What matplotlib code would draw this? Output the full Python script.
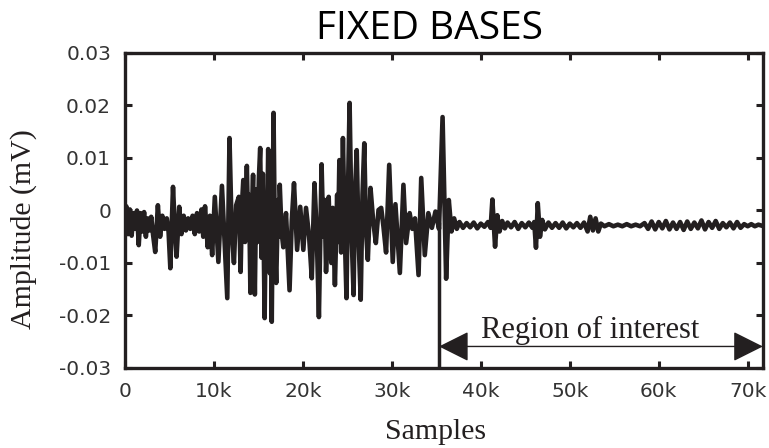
import numpy as np
import matplotlib
matplotlib.use("Agg")
import matplotlib.pyplot as plt

# burst part of the recording (sample index in thousands, amplitude in 1e-3 mV)
burst_x = [0.0, 0.15, 0.35, 0.55, 0.75, 0.95, 1.15, 1.35, 1.55, 1.75, 1.95, 2.15,
           2.35, 2.55, 2.75, 2.95, 3.15, 3.4, 3.7, 3.95, 4.2, 4.45, 4.7, 4.9,
           5.1, 5.4, 5.6, 5.8, 6.1, 6.35, 6.6, 6.85, 7.1, 7.35, 7.6, 7.85,
           8.1, 8.35, 8.6, 8.8, 9.0, 9.3, 9.55, 9.8, 10.1, 10.5, 10.9, 11.2,
           11.5, 11.75, 12.0, 12.25, 12.5, 12.8, 13.0, 13.15, 13.3, 13.5, 13.7, 13.85,
           13.95, 14.1, 14.25, 14.4, 14.6, 14.75, 14.9, 15.05, 15.2, 15.35, 15.5, 15.7,
           15.85, 15.95, 16.1, 16.3, 16.4, 16.5, 16.7, 16.85, 17.0, 17.2, 17.3, 17.4,
           17.6, 17.8, 18.1, 18.5, 18.75, 19.0, 19.35, 19.7, 20.05, 20.35, 20.7, 21.0,
           21.3, 21.55, 21.8, 22.1, 22.3, 22.45, 22.6, 22.9, 23.05, 23.2, 23.35, 23.6,
           23.85, 23.95, 24.1, 24.3, 24.5, 24.7, 24.9, 25.05, 25.25, 25.5, 25.7, 25.85,
           26.05, 26.25, 26.5, 26.7, 26.9, 27.1, 27.3, 27.6, 27.9, 28.2, 28.5, 28.8,
           29.05, 29.35, 29.7, 30.1, 30.4, 30.9, 31.3, 31.6, 32.0, 32.3, 32.6, 33.0,
           33.3, 33.7, 34.1, 34.5, 34.9, 35.3, 35.7, 36.1, 36.4, 36.7, 37.0, 37.3]
burst_y = [-1.5, 0.8, -4.5, 0.2, -4.8, -0.5, -3.5, 0.0, -6.6, -0.5, -4.0, -0.3,
           -5.0, -1.5, -3.8, -1.2, -4.5, -7.9, 1.0, -5.0, -1.0, -3.5, -1.5, -4.0,
           -11.0, 4.5, -3.0, -8.8, 0.7, -4.5, -1.0, -3.8, -1.5, -3.5, -1.0, -4.5,
           -0.5, -4.0, 0.2, -5.0, 0.8, -7.0, -1.0, -8.5, 2.6, -9.8, 4.7, -6.0,
           -16.7, 13.8, -4.0, -10.0, 1.0, 2.6, -11.7, 1.0, 5.8, -6.0, 8.5, -4.0,
           3.0, -15.7, -1.0, 6.8, -16.0, 4.0, -6.0, 6.0, 11.9, -9.0, 7.0, -20.5,
           2.0, -8.0, 11.7, -12.0, 6.0, -21.2, 18.6, -6.0, -13.8, 2.0, -5.0, 4.9,
           -4.0, -7.0, -0.5, -15.2, -2.0, 5.2, -7.5, 0.7, -7.5, 0.5, -5.0, -12.9,
           5.2, -4.0, -20.3, 8.8, -5.0, 2.0, -11.7, 2.6, -6.0, -10.0, 0.5, -14.2,
           3.0, -6.0, 9.6, -8.0, 13.8, -4.0, -16.7, 2.0, 20.5, -6.0, -16.1, 3.0,
           11.5, -5.0, -17.0, 3.0, 12.8, -4.0, -9.4, 4.3, -2.0, -6.2, 0.1, 0.5,
           -3.0, -8.0, 8.7, -9.8, 1.2, -11.9, 4.9, -6.2, -0.5, -3.5, -1.5, -12.3,
           6.2, -8.5, -0.5, -3.3, -0.2, -3.5, 17.8, -13.0, 2.0, -4.0, -1.5, -3.5]

# quiet part after the marker
quiet_x = [37.6, 38.0, 38.4, 38.8, 39.2, 39.6, 40.0, 40.4, 40.8, 41.1, 41.3, 41.6,
           41.85, 42.1, 42.4, 42.7, 43.0, 43.4, 43.8, 44.2, 44.6, 45.0, 45.4, 45.8,
           46.0, 46.2, 46.4, 46.65, 46.9, 47.2, 47.6, 48.0, 48.4, 48.8, 49.2, 49.6,
           50.0, 50.4, 50.8, 51.2, 51.6, 52.0, 52.3, 52.6, 52.9, 53.2, 53.5, 53.9,
           54.4, 54.9, 55.4, 55.9, 56.4, 56.9, 57.4, 57.9, 58.4, 58.8, 59.2, 59.6,
           60.0, 60.4, 60.8, 61.2, 61.6, 62.0, 62.4, 62.8, 63.2, 63.6, 64.0, 64.4,
           64.8, 65.2, 65.6, 66.0, 66.4, 66.8, 67.2, 67.6, 68.0, 68.4, 68.8, 69.2,
           69.6, 70.0, 70.4, 70.8, 71.2, 71.6]
quiet_y = [-2.2, -3.3, -2.4, -3.2, -2.3, -3.4, -2.5, -3.1, -2.2, -3.3, 2.1, -6.9,
           -0.9, -4.0, -2.0, -3.4, -2.3, -3.2, -2.2, -3.5, -2.4, -3.2, -2.3, -3.3,
           -2.2, -7.1, 1.4, -5.0, -1.8, -3.6, -2.3, -3.3, -2.4, -3.3, -2.3, -3.4,
           -2.5, -3.2, -2.4, -3.3, -2.3, -4.0, -1.2, -3.8, -1.5, -4.0, -2.5, -3.0,
           -2.6, -3.0, -2.7, -3.0, -2.6, -3.0, -2.7, -3.0, -2.4, -3.5, -2.1, -3.6,
           -2.2, -3.4, -2.0, -3.6, -2.3, -3.5, -2.2, -3.7, -2.1, -3.5, -2.3, -3.4,
           -1.9, -3.6, -2.2, -3.3, -2.0, -3.5, -2.4, -3.2, -2.3, -3.4, -2.2, -3.3,
           -2.6, -3.0, -2.6, -3.0, -2.7, -2.9]

x_ticks = [0, 10000, 20000, 30000, 40000, 50000, 60000, 70000]
x_labels = ['0', '10k', '20k', '30k', '40k', '50k', '60k', '70k']
y_ticks = [-0.03, -0.02, -0.01, 0, 0.01, 0.02, 0.03]
y_labels = ['-0.03', '-0.02', '-0.01', '0', '0.01', '0.02', '0.03']

roi_start = 35300
x_end = 71700

ink = '#231f20'

x = np.array(burst_x + quiet_x) * 1000
y = np.array(burst_y + quiet_y) * 1e-3

fig = plt.figure(figsize=(7.69, 4.48), dpi=100)
ax = fig.add_axes([0.1625, 0.1786, 0.8295, 0.7031])

ax.plot(x, y, color=ink, lw=3.3, solid_joinstyle='round')

# region marker and arrow
ax.plot([roi_start, roi_start], [-0.03, -0.0025], color=ink, lw=2.5)
ax.annotate('', xy=(x_end, -0.0259), xytext=(roi_start, -0.0259),
            arrowprops=dict(arrowstyle='<|-|>,head_length=1.9,head_width=0.95',
                            mutation_scale=10, color=ink, lw=1,
                            shrinkA=0, shrinkB=0))
ax.text(52300, -0.0243, 'Region of interest', family='Liberation Serif',
        fontsize=22, ha='center', va='baseline', color=ink)

ax.set_xlim(0, x_end)
ax.set_ylim(-0.03, 0.03)
ax.set_xticks(x_ticks)
ax.set_xticklabels(x_labels)
ax.set_yticks(y_ticks)
ax.set_yticklabels(y_labels)
ax.tick_params(direction='in', length=5, width=2.2, top=True, right=True,
               labelsize=14.5, pad=10, colors=ink, labelcolor='#333333')
for s in ax.spines.values():
    s.set_linewidth(2.4)
    s.set_color(ink)

fig.text(0.558, 0.913, 'FIXED BASES', family='Open Sans', fontsize=28,
         ha='center', va='baseline', color='black')
fig.text(0.566, 0.02, 'Samples', family='Liberation Serif', fontsize=21.5,
         ha='center', va='baseline', color=ink)
fig.text(0.030, 0.489, 'Amplitude (mV)', family='Liberation Serif', fontsize=21.5,
         ha='center', va='center', rotation=90, color=ink)

fig.savefig('out.png', dpi=100)
